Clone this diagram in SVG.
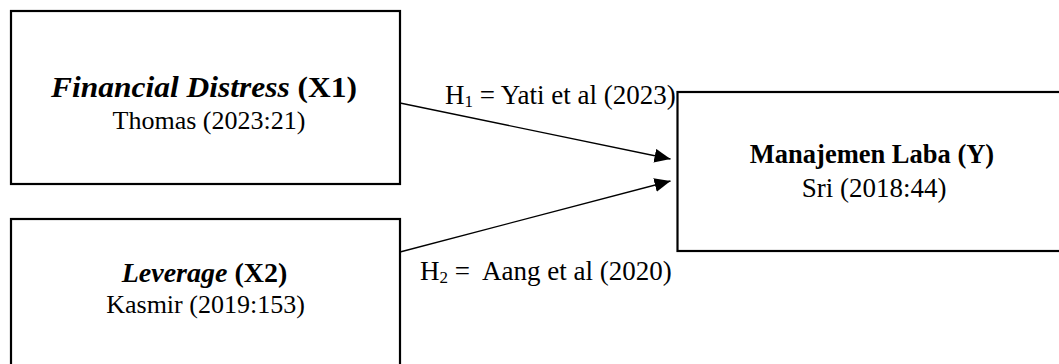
<svg xmlns="http://www.w3.org/2000/svg" width="1059" height="364" viewBox="0 0 1059 364">
<style>
.box{fill:#fff;stroke:#000;stroke-width:2.2}
.t{font-family:"Liberation Serif","Times New Roman",serif;fill:#000}
.c{text-anchor:middle}
.b{font-weight:bold}
.i{font-style:italic}
.con{stroke:#000;stroke-width:1.3;fill:none}
</style>
<defs>
<marker id="ah" markerUnits="userSpaceOnUse" markerWidth="18" markerHeight="16" refX="16" refY="7" orient="auto">
<path d="M0,0 L16,7 L0,14 Z" fill="#000"/>
</marker>
</defs>
<rect width="1059" height="364" fill="#fff"/>
<g id="x1">
<rect class="box" x="11" y="11" width="389" height="173"/>
<text class="t c b" x="204" y="97" font-size="29" textLength="306" lengthAdjust="spacingAndGlyphs"><tspan class="i">Financial Distress</tspan> (X1)</text>
<text class="t c" x="209" y="129" font-size="26">Thomas (2023:21)</text>
</g>
<g id="x2">
<rect class="box" x="11" y="219" width="389" height="170"/>
<text class="t c b" x="204.5" y="282" font-size="28"><tspan class="i">Leverage</tspan> (X2)</text>
<text class="t c" x="205.5" y="313" font-size="26">Kasmir (2019:153)</text>
</g>
<g id="y">
<rect class="box" x="677.5" y="92" width="400" height="159"/>
<text class="t c b" x="872" y="163" font-size="26.5">Manajemen Laba (Y)</text>
<text class="t c" x="874" y="197" font-size="27">Sri (2018:44)</text>
</g>
<g id="connectors">
<line class="con" x1="400" y1="103" x2="670.5" y2="159" marker-end="url(#ah)"/>
<line class="con" x1="400" y1="252" x2="670.5" y2="181" marker-end="url(#ah)"/>
<text class="t" x="445" y="104" font-size="27">H<tspan font-size="17" dy="3">1</tspan><tspan dy="-3"> = Yati et al (2023)</tspan></text>
<text class="t" x="420" y="280" font-size="27" xml:space="preserve">H<tspan font-size="17" dy="3">2</tspan><tspan dy="-3"> =  Aang et al (2020)</tspan></text>
</g>
</svg>
